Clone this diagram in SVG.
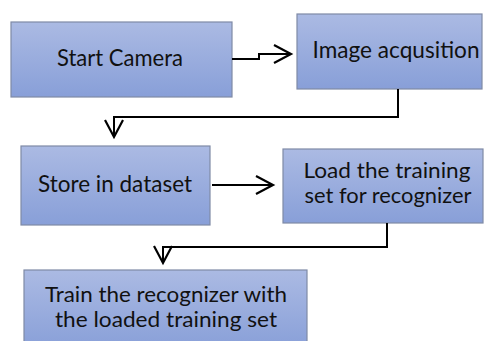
<svg xmlns="http://www.w3.org/2000/svg" width="493" height="341" viewBox="0 0 493 341">
  <defs>
    <linearGradient id="boxFill" x1="0" y1="0" x2="0" y2="1">
      <stop offset="0" stop-color="#abbae3"/>
      <stop offset="1" stop-color="#889fd8"/>
    </linearGradient>
    <marker id="arrow" markerUnits="userSpaceOnUse" markerWidth="24" markerHeight="24" refX="17" refY="9" orient="auto" overflow="visible">
      <path d="M0,0 L17,9 L0,18" fill="none" stroke="#000" stroke-width="2.2"/>
    </marker>
  </defs>
  <style>
    .box { fill: url(#boxFill); stroke: #7f8aa6; stroke-width: 1.2; }
    .label { font-family: Lato, "Open Sans", "Liberation Sans", sans-serif; font-size: 23px; fill: #111; text-anchor: middle; }
    .label2 { font-size: 22px; }
    .conn { fill: none; stroke: #000; stroke-width: 2; marker-end: url(#arrow); }
  </style>
  <rect width="493" height="341" fill="#ffffff"/>

  <g id="start-camera">
    <rect class="box" x="11" y="22" width="221" height="75"/>
    <text class="label" x="120" y="66" textLength="126" lengthAdjust="spacingAndGlyphs">Start Camera</text>
  </g>

  <g id="image-acquisition">
    <rect class="box" x="297" y="14" width="185" height="75"/>
    <text class="label" x="396" y="58" textLength="167" lengthAdjust="spacingAndGlyphs">Image acqusition</text>
  </g>

  <g id="store-dataset">
    <rect class="box" x="21" y="146" width="189" height="79"/>
    <text class="label" x="115" y="192" textLength="154" lengthAdjust="spacingAndGlyphs">Store in dataset</text>
  </g>

  <g id="load-training-set">
    <rect class="box" x="283" y="149" width="200" height="74"/>
    <text class="label label2" x="387" y="178" textLength="167" lengthAdjust="spacingAndGlyphs">Load the training</text>
    <text class="label label2" x="388" y="203" textLength="167" lengthAdjust="spacingAndGlyphs">set for recognizer</text>
  </g>

  <g id="train-recognizer">
    <rect class="box" x="24" y="270" width="283" height="80"/>
    <text class="label label2" x="166" y="302" textLength="242" lengthAdjust="spacingAndGlyphs">Train the recognizer with</text>
    <text class="label label2" x="166" y="327" textLength="222" lengthAdjust="spacingAndGlyphs">the loaded training set</text>
  </g>

  <g id="connectors">
    <path class="conn" d="M232,59 H259 V54 H291"/>
    <path class="conn" d="M398,89 V117 H114 V137"/>
    <path class="conn" d="M212,185 H273"/>
    <path class="conn" d="M387,223 V247 H163 V263"/>
  </g>
</svg>
